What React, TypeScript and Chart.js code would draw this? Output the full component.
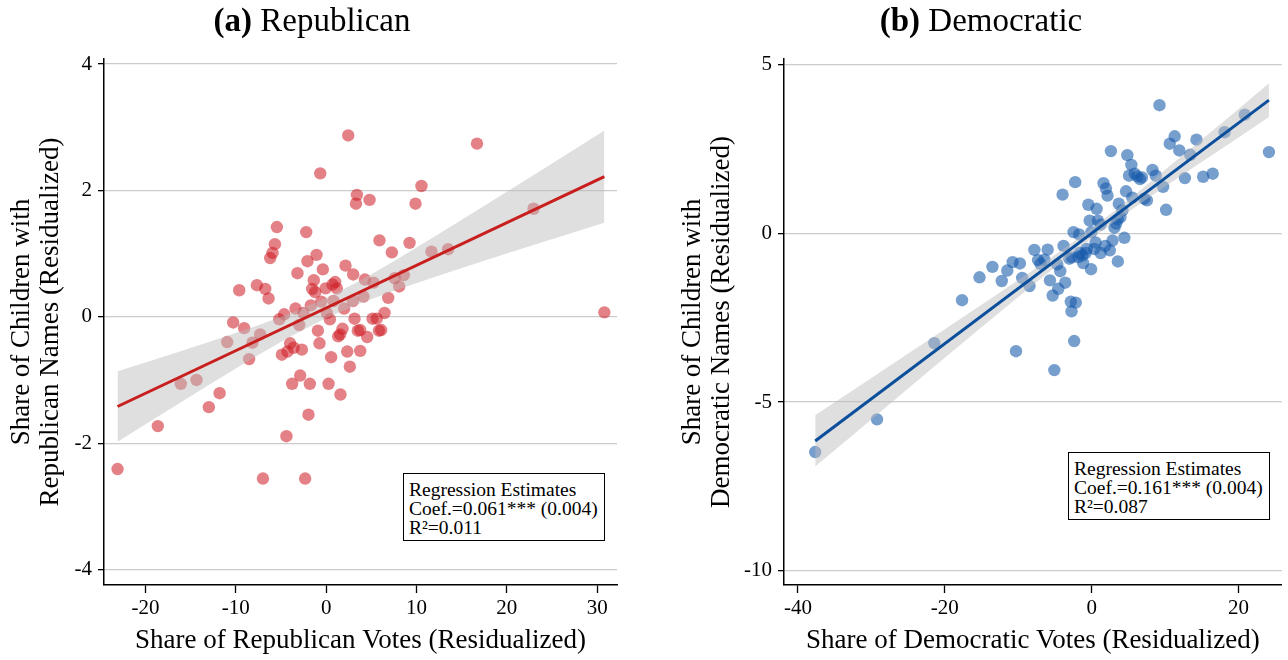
import React, { useEffect, useRef } from 'react';
import { Chart, registerables } from 'chart.js';

Chart.register(...registerables);

// ---------- Panel (a): Republican ----------
const repX = [
  2.44, -0.66, 3.4, 3.3, -5.46, -2.21, -5.68, -5.94, -6.2, -1.07,
  -2.07, 2.14, -0.37, 2.99, -3.18, -1.37, 1.0, 0.7, 1.18, -1.55,
  -1.22, -0.07, -9.63, -7.67, -6.75, -6.38, -3.4, -4.65, -5.2, -2.51,
  -1.7, -0.55, 0.81, 1.99, 2.95, -2.99, -0.92, 0.41, -10.3, -9.08,
  -7.31, 3.14, 1.81, 1.55, 1.33, 3.5, 5.9, 9.23, 7.27, 4.29,
  5.24, 7.6, 8.6, 8.08, 6.87, 4.13, 0.07, 5.13, 5.6, 6.46,
  5.84, 4.54, -10.96, -8.16, -8.53, -0.74, -4.9, -4.29, -3.99, -3.6,
  -2.69, 0.55, 2.33, 2.62, 3.77, -2.88, -3.77, -1.81, 0.26, 1.58,
  -11.8, -14.36, -16.1, -12.99, -18.64, -1.96, -4.4, -23.1, -7.0, -2.33,
  16.7, 10.55, 4.8, 9.89, 22.96, 11.66, 13.5, 30.8, 3.77, 6.09,
];
const repY = [
  2.87, 2.27, 1.93, 1.79, 1.42, 1.34, 1.15, 1.01, 0.93, 0.98,
  0.88, 0.81, 0.75, 0.67, 0.69, 0.58, 0.55, 0.51, 0.45, 0.44,
  0.39, 0.45, 0.42, 0.5, 0.44, 0.29, 0.13, 0.04, -0.04, 0.06,
  0.18, 0.24, 0.25, 0.13, 0.25, -0.13, -0.22, -0.04, -0.09, -0.18,
  -0.28, -0.03, -0.19, -0.28, -0.31, -0.22, 1.21, 1.17, 1.02, 0.59,
  0.54, 0.61, 0.66, 0.48, 0.3, 0.32, 0.06, -0.03, -0.03, 0.06,
  -0.22, -0.32, -0.4, -0.41, -0.67, -0.42, -0.6, -0.55, -0.42, -0.49,
  -0.52, -0.64, -0.55, -0.79, -0.54, -0.93, -1.06, -1.06, -1.06, -1.23,
  -1.21, -1.0, -1.06, -1.43, -1.73, -1.55, -1.89, -2.41, -2.56, -2.56,
  2.74, 2.07, 1.85, 1.79, 1.71, 1.03, 1.07, 0.07, -0.21, -0.21,
];
const repFitX = [-23.1, 30.8];
const repFitY = [-1.42, 2.218];
const repBandX = [-23.1, -18, -13, -8, -4, 0, 4, 8, 13, 18, 24, 30.8];
const repBandUpper = [-0.863, -0.631, -0.398, -0.158, 0.052, 0.297, 0.592, 0.922, 1.356, 1.799, 2.336, 2.948];
const repBandLower = [-1.977, -1.521, -1.078, -0.644, -0.314, -0.019, 0.226, 0.436, 0.676, 0.909, 1.182, 1.488];
const repXTicks = [-20, -10, 0, 10, 20, 30];
const repYTicks = [-4, -2, 0, 2, 4];

// ---------- Panel (b): Democratic ----------
const demX = [
  -7.8, -7.3, -10.76, -9.77, -13.51, -11.49, -15.27, -12.24, -9.46, -8.46,
  -17.65, -21.43, -10.3, -29.23, -37.65, 9.24, 20.86, 11.31, 10.64, 14.28,
  18.11, 11.94, 13.43, 2.62, 4.86, 24.15, 5.41, 8.29, 5.09, 5.86,
  6.22, 6.58, 6.85, 8.74, 12.7, 15.19, 16.49, -2.24, 1.62, 1.95,
  2.16, -3.96, 4.69, 9.73, 7.53, 7.16, 5.54, 10.14, -0.45, 0.68,
  3.7, 4.19, 3.92, 3.57, -0.27, 0.86, 1.22, 3.11, 3.34, -2.47,
  -1.7, -0.04, 4.46, 2.84, -3.82, 0.54, 1.85, 0.36, 2.48, 1.22,
  -5.99, -0.67, -0.81, -1.26, -1.8, -1.62, -3.05, -2.7, -1.16, -0.08,
  3.57, -6.43, -6.97, -4.27, -4.68, -5.68, -3.6, -4.54, -5.31, -2.84,
  -2.16, -2.74, -2.38, -5.08,
];
const demY = [
  -0.49, -0.79, -0.85, -0.89, -0.99, -1.1, -1.3, -1.41, -1.32, -1.56,
  -1.98, -3.25, -3.49, -5.51, -6.48, 3.8, 3.52, 2.88, 2.66, 2.78,
  3.0, 2.46, 2.33, 2.44, 2.32, 2.41, 2.03, 1.88, 1.71, 1.77,
  1.69, 1.61, 1.66, 1.71, 1.64, 1.68, 1.77, 1.52, 1.49, 1.33,
  1.12, 1.15, 1.25, 1.38, 0.98, 1.03, 1.06, 0.7, 0.85, 0.73,
  0.88, 0.68, 0.48, 0.42, 0.38, 0.38, 0.26, 0.17, 0.29, 0.04,
  -0.03, 0.04, -0.13, -0.21, -0.37, -0.27, -0.37, -0.46, -0.5, -0.58,
  -0.48, -0.46, -0.58, -0.65, -0.7, -0.58, -0.75, -0.71, -0.88, -1.06,
  -0.83, -0.78, -0.9, -1.12, -0.92, -1.39, -1.46, -1.64, -1.84, -2.02,
  -2.05, -2.31, -3.19, -4.05,
];
const demFitX = [-37.65, 24.15];
const demFitY = [-6.15, 3.95];
const demBandX = [-37.65, -30, -22, -15, -8, -3, 0, 3, 8, 14, 19, 24.15];
const demBandUpper = [-5.39, -4.287, -3.129, -2.117, -1.092, -0.329, 0.15, 0.651, 1.528, 2.605, 3.505, 4.451];
const demBandLower = [-6.91, -5.513, -4.051, -2.783, -1.528, -0.651, -0.15, 0.329, 1.092, 1.975, 2.695, 3.449];
const demXTicks = [-40, -20, 0, 20];
const demYTicks = [-10, -5, 0, 5];

const FONT = '"Liberation Serif", "Times New Roman", serif';

type PanelProps = {
  xs: number[]; ys: number[];
  fitX: number[]; fitY: number[];
  bandX: number[]; bandUpper: number[]; bandLower: number[];
  xTicks: number[]; yTicks: number[];
  xMin: number; xMax: number; yMin: number; yMax: number;
  xTitle: string; yTitle: string[];
  dotColor: string; lineColor: string;
  width: number; height: number;
  yAxisWidth: number; padRight: number; padTop: number; xAxisHeight: number;
  yTitlePadTop: number;
};

function zip(a: number[], b: number[]) {
  return a.map((v, i) => ({ x: v, y: b[i] }));
}

function Panel(p: PanelProps) {
  const ref = useRef<HTMLCanvasElement | null>(null);
  useEffect(() => {
    if (!ref.current) return;
    const chart = new Chart(ref.current, {
      type: 'scatter',
      data: {
        datasets: [
          {
            type: 'line',
            data: zip(p.fitX, p.fitY),
            borderColor: p.lineColor,
            borderWidth: 3,
            pointRadius: 0,
            fill: false,
            order: 0,
          } as any,
          {
            type: 'line',
            data: zip(p.bandX, p.bandUpper),
            borderColor: 'rgba(0,0,0,0)',
            borderWidth: 0,
            pointRadius: 0,
            backgroundColor: 'rgba(188,188,188,0.48)',
            fill: '+1',
            order: 1,
          } as any,
          {
            type: 'line',
            data: zip(p.bandX, p.bandLower),
            borderColor: 'rgba(0,0,0,0)',
            borderWidth: 0,
            pointRadius: 0,
            fill: false,
            order: 1,
          } as any,
          {
            type: 'scatter',
            data: zip(p.xs, p.ys),
            backgroundColor: p.dotColor,
            borderWidth: 0,
            pointRadius: 6.2,
            order: 2,
          } as any,
        ],
      },
      options: {
        responsive: false,
        maintainAspectRatio: false,
        animation: false,
        layout: { padding: { top: p.padTop, right: p.padRight, left: 0, bottom: 0 } },
        plugins: {
          legend: { display: false },
          tooltip: { enabled: false },
          title: { display: false },
        },
        scales: {
          x: {
            type: 'linear',
            min: p.xMin,
            max: p.xMax,
            afterBuildTicks: (s: any) => { s.ticks = p.xTicks.map((v) => ({ value: v })); },
            afterFit: (s: any) => { s.height = p.xAxisHeight; },
            grid: { drawOnChartArea: false, drawTicks: true, tickLength: 8, tickColor: '#000', tickWidth: 1.3 },
            border: { display: true, color: '#000', width: 1.5 },
            ticks: { color: '#000', font: { family: FONT, size: 21 }, padding: 3, maxRotation: 0, autoSkip: false },
            title: {
              display: true, text: p.xTitle, color: '#000',
              font: { family: FONT, size: 27, lineHeight: 1.06 },
              padding: { top: 0, bottom: 5 },
            },
          },
          y: {
            type: 'linear',
            min: p.yMin,
            max: p.yMax,
            afterBuildTicks: (s: any) => { s.ticks = p.yTicks.map((v) => ({ value: v })); },
            afterFit: (s: any) => { s.width = p.yAxisWidth; },
            grid: { drawOnChartArea: true, drawTicks: true, tickLength: 6, color: '#cbcbcb', lineWidth: 1.3, tickColor: '#000', tickWidth: 1.3 },
            border: { display: true, color: '#000', width: 1.5 },
            ticks: { color: '#000', font: { family: FONT, size: 21 }, padding: 6, autoSkip: false },
            title: {
              display: true, text: p.yTitle, color: '#000',
              font: { family: FONT, size: 27, lineHeight: 1.06 },
              padding: { top: p.yTitlePadTop, bottom: 0 },
            },
          },
        },
      } as any,
    });
    return () => chart.destroy();
  }, []);
  return <canvas ref={ref} width={p.width} height={p.height} style={{ display: 'block', width: p.width, height: p.height }} />;
}

const boxStyle: React.CSSProperties = {
  position: 'absolute',
  width: 202,
  height: 68,
  boxSizing: 'border-box',
  border: '1.5px solid #000',
  background: '#fff',
  padding: '6px 0 0 5px',
  fontFamily: FONT,
  fontSize: 19.5,
  lineHeight: '19px',
  color: '#000',
  whiteSpace: 'nowrap',
};

const titleStyle: React.CSSProperties = {
  position: 'absolute',
  top: 0,
  textAlign: 'center',
  fontFamily: FONT,
  fontSize: 33,
  lineHeight: '40px',
  color: '#000',
  whiteSpace: 'nowrap',
};

export default function App() {
  return (
    <div style={{ position: 'absolute', left: 0, top: 0, width: 1288, height: 660, background: '#fff', overflow: 'hidden' }}>
      <div style={{ position: 'absolute', left: 0, top: 0 }}>
        <Panel
          xs={repX} ys={repY} fitX={repFitX} fitY={repFitY}
          bandX={repBandX} bandUpper={repBandUpper} bandLower={repBandLower}
          xTicks={repXTicks} yTicks={repYTicks}
          xMin={-24.6} xMax={32.2} yMin={-4.245} yMax={4.08}
          xTitle="Share of Republican Votes (Residualized)"
          yTitle={['Share of Children with', 'Republican Names (Residualized)']}
          dotColor="rgba(205,25,35,0.55)" lineColor="#c81e1e"
          width={640} height={660}
          yAxisWidth={104} padRight={23} padTop={59} xAxisHeight={75}
          yTitlePadTop={8}
        />
      </div>
      <div style={{ position: 'absolute', left: 640, top: 0 }}>
        <Panel
          xs={demX} ys={demY} fitX={demFitX} fitY={demFitY}
          bandX={demBandX} bandUpper={demBandUpper} bandLower={demBandLower}
          xTicks={demXTicks} yTicks={demYTicks}
          xMin={-41.9} xMax={25.9} yMin={-10.42} yMax={5.17}
          xTitle="Share of Democratic Votes (Residualized)"
          yTitle={['Share of Children with', 'Democratic Names (Residualized)']}
          dotColor="rgba(20,90,170,0.58)" lineColor="#0b4f9c"
          width={648} height={660}
          yAxisWidth={144} padRight={3} padTop={59} xAxisHeight={75}
          yTitlePadTop={39}
        />
      </div>
      <div style={{ ...titleStyle, left: 112, width: 400 }}>
        <b>(a)</b> Republican
      </div>
      <div style={{ ...titleStyle, left: 781, width: 400 }}>
        <b>(b)</b> Democratic
      </div>
      <div style={{ ...boxStyle, left: 403, top: 473 }}>
        <div>Regression Estimates</div>
        <div>Coef.=0.061*** (0.004)</div>
        <div>R²=0.011</div>
      </div>
      <div style={{ ...boxStyle, left: 1068, top: 452 }}>
        <div>Regression Estimates</div>
        <div>Coef.=0.161*** (0.004)</div>
        <div>R²=0.087</div>
      </div>
    </div>
  );
}
